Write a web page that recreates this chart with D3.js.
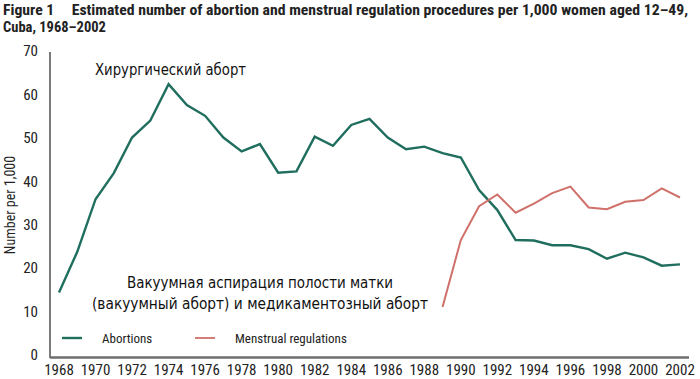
<!DOCTYPE html>
<html><head><meta charset="utf-8">
<script src="https://cdn.jsdelivr.net/npm/d3@7"></script>
<style>
html,body{margin:0;padding:0;background:#fff;}
svg{display:block;}
.narrow{font-family:"Liberation Sans Narrow","Arial Narrow","Roboto Condensed",sans-serif;}
</style>
</head><body>
<svg id="c" width="700" height="379"></svg>
<script>
const years = d3.range(1968, 2003);
const abortions = [14.6,24.0,36.1,42.1,50.3,54.2,62.6,57.8,55.3,50.3,47.1,48.8,42.2,42.5,50.5,48.4,53.2,54.6,50.3,47.6,48.2,46.7,45.7,38.2,33.6,26.7,26.6,25.5,25.5,24.6,22.4,23.8,22.7,20.8,21.1];
const mrYears = d3.range(1989, 2003);
const menstrualRegulations = [11.3,26.7,34.5,37.2,33.0,35.1,37.5,39.0,34.2,33.8,35.5,35.9,38.6,36.5];
const yTicks = [0,10,20,30,40,50,60,70];
const xTicks = d3.range(1968, 2003, 2);
const titleLines = ["Figure 1\u2003 Estimated number of abortion and menstrual regulation procedures per 1,000 women aged 12\u201349,", "Cuba, 1968\u20132002"];
const yLabel = "Number per 1,000";
const legendItems = [{name:"Abortions", color:"#1f6e5e"},{name:"Menstrual regulations", color:"#d0706a"}];
const annotTop = "Хирургический аборт";
const annotBottom = ["Вакуумная аспирация полости матки", "(вакуумный аборт) и медикаментозный аборт"];

const svg = d3.select("#c");
const x = d3.scaleLinear().domain([1968, 2002]).range([59, 680]);
const y = d3.scaleLinear().domain([0, 70]).range([356, 52]);

// title
svg.append("text").attr("class","narrow").attr("x",3).attr("y",15)
  .attr("font-size",14.5).attr("font-weight","bold").attr("fill","#222")
  .attr("textLength",685).attr("lengthAdjust","spacingAndGlyphs").text(titleLines[0]);
svg.append("text").attr("class","narrow").attr("x",3).attr("y",32)
  .attr("font-size",14.5).attr("font-weight","bold").attr("fill","#222").text(titleLines[1]);

// axes lines
svg.append("line").attr("x1",50).attr("x2",50).attr("y1",52).attr("y2",358).attr("stroke","#222").attr("stroke-width",1.2);
svg.append("line").attr("x1",50).attr("x2",689).attr("y1",357.5).attr("y2",357.5).attr("stroke","#6e6e6e").attr("stroke-width",2.5);

// y tick labels
svg.append("g").selectAll("text").data(yTicks).join("text")
  .attr("class","narrow").attr("x",38).attr("y",d=>y(d)-1).attr("dy","0.35em")
  .attr("text-anchor","end").attr("font-size",15).attr("fill","#222").text(d=>d);

// x tick labels
svg.append("g").selectAll("text").data(xTicks).join("text")
  .attr("class","narrow").attr("x",d=>x(d)).attr("y",370).attr("dy","0.35em")
  .attr("text-anchor","middle").attr("font-size",15).attr("fill","#222").text(d=>d);

// y label
svg.append("text").attr("class","narrow").attr("transform","translate(10,205) rotate(-90)")
  .attr("text-anchor","middle").attr("dy","0.35em").attr("font-size",14).attr("fill","#222").text(yLabel);

// lines
const line = d3.line().x(d=>x(d[0])).y(d=>y(d[1]));
svg.append("path").datum(years.map((yr,i)=>[yr,abortions[i]])).attr("d",line)
  .attr("fill","none").attr("stroke",legendItems[0].color).attr("stroke-width",2.4).attr("stroke-linejoin","miter");
svg.append("path").datum(mrYears.map((yr,i)=>[yr,menstrualRegulations[i]])).attr("d",line)
  .attr("fill","none").attr("stroke",legendItems[1].color).attr("stroke-width",2).attr("stroke-linejoin","miter");

// legend
const lx = [62, 195];
legendItems.forEach((it,i)=>{
  svg.append("line").attr("x1",lx[i]).attr("x2",lx[i]+20).attr("y1",338).attr("y2",338)
    .attr("stroke",it.color).attr("stroke-width",i===0?2.4:1.8);
  svg.append("text").attr("class","narrow").attr("x",lx[i]+40).attr("y",338).attr("dy","0.35em")
    .attr("font-size",13).attr("fill","#222").text(it.name);
});

// annotations
svg.append("text").attr("x",95).attr("y",70).attr("dy","0.35em")
  .attr("font-family","DejaVu Sans, sans-serif").attr("font-size",15).attr("fill","#111")
  .attr("textLength",151).attr("lengthAdjust","spacingAndGlyphs").text(annotTop);
const aw = [266, 336];
annotBottom.forEach((t,i)=>{
  svg.append("text").attr("x",260).attr("y",283+i*21).attr("dy","0.35em").attr("text-anchor","middle")
    .attr("font-family","DejaVu Sans, sans-serif").attr("font-size",15).attr("fill","#111")
    .attr("textLength",aw[i]).attr("lengthAdjust","spacingAndGlyphs").text(t);
});
</script>
</body></html>
